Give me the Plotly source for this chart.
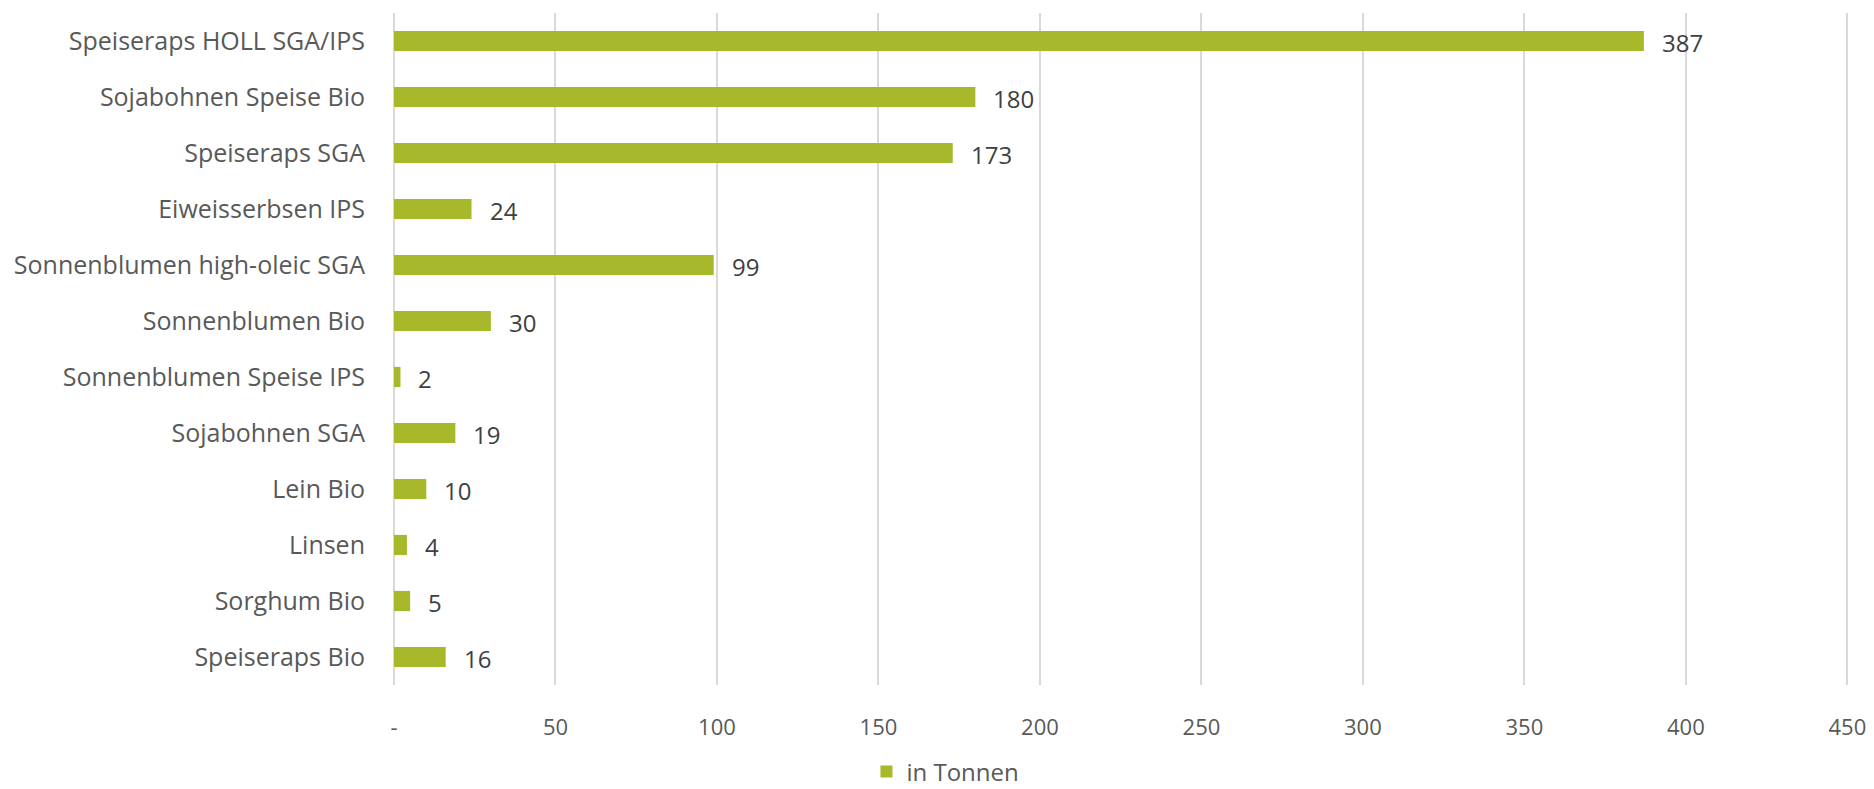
import plotly.graph_objects as go

categories = [
    "Speiseraps HOLL SGA/IPS",
    "Sojabohnen Speise Bio",
    "Speiseraps SGA",
    "Eiweisserbsen IPS",
    "Sonnenblumen high-oleic SGA",
    "Sonnenblumen Bio",
    "Sonnenblumen Speise IPS",
    "Sojabohnen SGA",
    "Lein Bio",
    "Linsen",
    "Sorghum Bio",
    "Speiseraps Bio",
]
values = [387, 180, 173, 24, 99, 30, 2, 19, 10, 4, 5, 16]
series_name = "in Tonnen"
tick_vals = [0, 50, 100, 150, 200, 250, 300, 350, 400, 450]
tick_text = ["-", "50", "100", "150", "200", "250", "300", "350", "400", "450"]

BAR = "#A7B82A"
TXT = "#595959"
GRID = "#D9D9D9"
FONT = "Open Sans"

fig = go.Figure()
fig.add_trace(go.Bar(
    x=values, y=categories, orientation="h", name=series_name,
    marker=dict(color=BAR, line=dict(width=0)),
    showlegend=True, hoverinfo="skip",
))

annotations = [
    dict(x=v, y=c, xref="x", yref="y", text=str(v), showarrow=False,
         xanchor="left", yanchor="middle", xshift=16, yshift=-1,
         font=dict(family=FONT, size=24, color="#404040"))
    for c, v in zip(categories, values)
]

fig.update_layout(
    width=1874, height=789,
    margin=dict(l=394, r=25, t=13, b=104, autoexpand=False),
    paper_bgcolor="white", plot_bgcolor="white",
    font=dict(family=FONT, size=24, color=TXT),
    bargap=0.64,
    annotations=annotations,
    legend=dict(orientation="h", x=0.379, y=-0.1295, xanchor="center", yanchor="middle",
                font=dict(family=FONT, size=24, color=TXT)),
    xaxis=dict(range=[0, 450.5], tickvals=tick_vals, ticktext=tick_text,
               showgrid=True, gridcolor=GRID, gridwidth=1.5,
               zeroline=True, zerolinecolor=GRID, zerolinewidth=1.5,
               showline=False, ticks="", ticklabelstandoff=27, automargin=False,
               tickfont=dict(family=FONT, size=22, color=TXT)),
    yaxis=dict(autorange="reversed", showgrid=False, zeroline=False, showline=False,
               ticks="", ticklabelstandoff=28, automargin=False,
               tickfont=dict(family=FONT, size=25, color=TXT)),
)

fig.write_html("out.html", config={"displayModeBar": False},
               post_script="document.body.style.margin='0';")
